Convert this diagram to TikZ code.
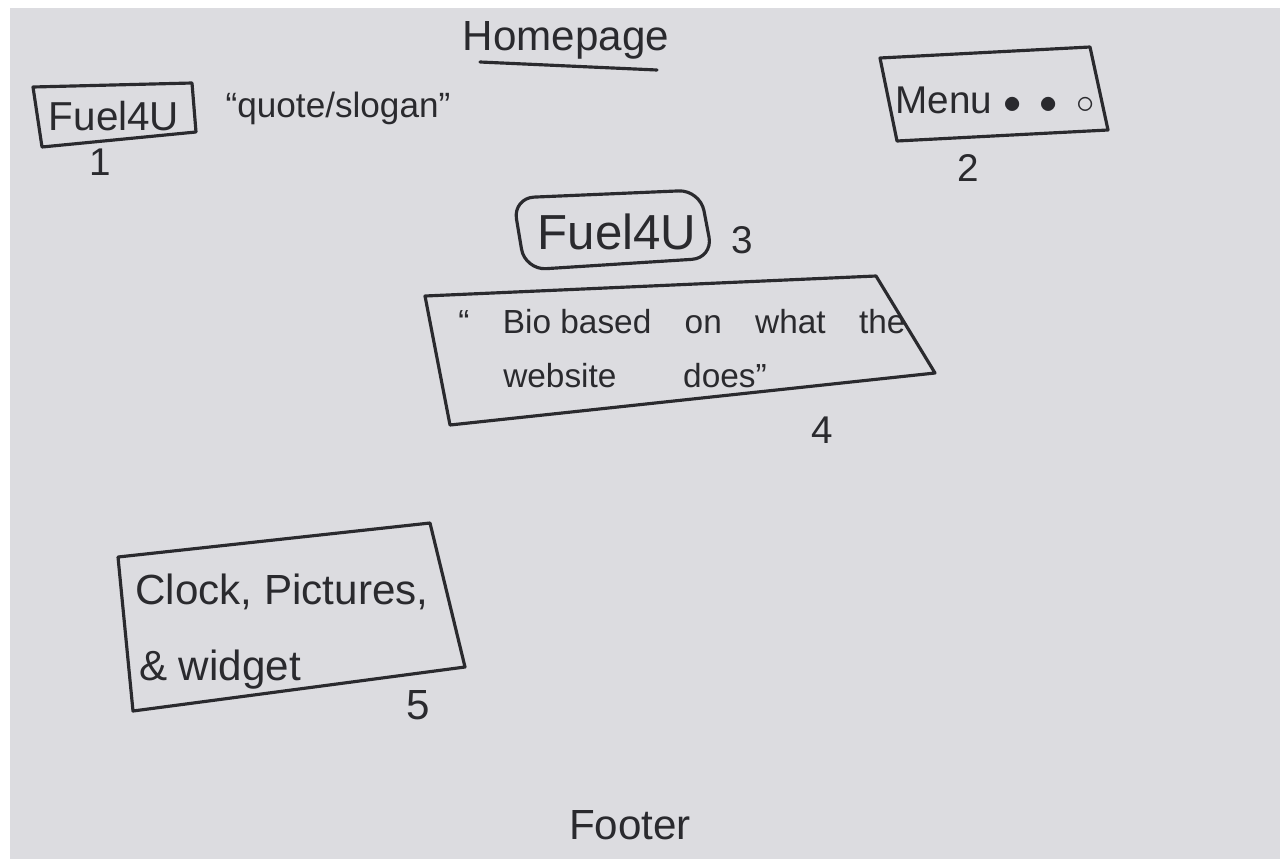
\documentclass[tikz,border=0pt]{standalone}
\usepackage{fontspec}
\setmainfont{Liberation Sans}
\definecolor{paper}{HTML}{DCDCE0}
\definecolor{ink}{HTML}{2A2A2E}
\tikzset{
  sk/.style={draw=ink, line width=1.8pt, line join=round, line cap=round},
  hand/.style={text=ink, inner sep=0pt, anchor=center},
}
\begin{document}
\begin{tikzpicture}[x=0.02cm,y=-0.02cm]
\fill[white] (0,0) rectangle (1280,859);
\fill[paper] (10,8) rectangle (1280,859);
\useasboundingbox (0,0) rectangle (1280,859);
% Title
\node[hand, font=\fontsize{24}{28}\selectfont] (title) at (566,40) {Homepage};
\draw[sk] (480,62) -- (657,70);
% Box 1
\draw[sk] (33,87) -- (192,83) -- (196,132) -- (42,147) -- cycle;
\node[hand, font=\fontsize{23}{27}\selectfont] (logo1) at (114,116) {Fuel4U};
\node[hand, font=\fontsize{22}{26}\selectfont] (n1) at (100,162) {1};
\node[hand, font=\fontsize{20}{24}\selectfont] (quote) at (338,108) {“quote/slogan”};
% Box 2
\draw[sk] (880,58) -- (1090,47) -- (1108,130) -- (897,141) -- cycle;
\node[hand, font=\fontsize{22}{26}\selectfont] (menu) at (995,100) {Menu $\bullet\;\bullet\;\circ$};
\node[hand, font=\fontsize{22}{26}\selectfont] (n2) at (968,168) {2};
% Box 3
\draw[sk, rounded corners=12pt] (513,198) -- (700,190) -- (713,258) -- (525,270) -- cycle;
\node[hand, font=\fontsize{28}{32}\selectfont] (logo3) at (617,232) {Fuel4U};
\node[hand, font=\fontsize{22}{26}\selectfont] (n3) at (742,240) {3};
% Box 4
\draw[sk] (425,296) -- (876,276) -- (935,373) -- (450,425) -- cycle;
\node[hand, font=\fontsize{19}{23}\selectfont] (bio1) at (682,322) {“\quad Bio based\quad on\quad what\quad the};
\node[hand, font=\fontsize{19}{23}\selectfont] (bio2) at (635,376) {website\quad\quad does”};
\node[hand, font=\fontsize{22}{26}\selectfont] (n4) at (822,430) {4};
% Box 5
\draw[sk] (118,557) -- (430,523) -- (465,667) -- (133,711) -- cycle;
\node[hand, font=\fontsize{24}{28}\selectfont] (w1) at (282,592) {Clock, Pictures,};
\node[hand, font=\fontsize{24}{28}\selectfont] (w2) at (220,670) {\& widget};
\node[hand, font=\fontsize{24}{28}\selectfont] (n5) at (418,705) {5};
% Footer
\node[hand, font=\fontsize{24}{28}\selectfont] (footer) at (630,825) {Footer};
\end{tikzpicture}
\end{document}
